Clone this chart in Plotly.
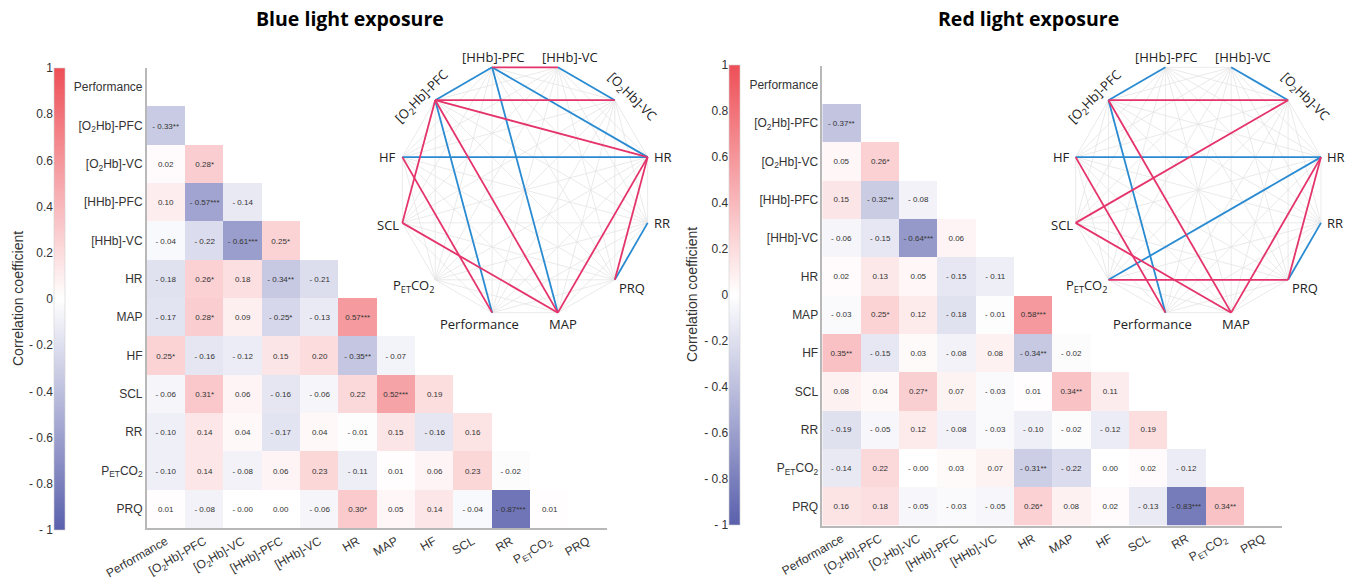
import math
import plotly.graph_objects as go

W, H = 1354, 584

# ---------------- data ----------------
variables = ["Performance", "[O<sub>2</sub>Hb]-PFC", "[O<sub>2</sub>Hb]-VC", "[HHb]-PFC",
             "[HHb]-VC", "HR", "MAP", "HF", "SCL", "RR", "P<sub>ET</sub>CO<sub>2</sub>", "PRQ"]

blue_r = [
    [],
    [-0.33],
    [0.02, 0.28],
    [0.10, -0.57, -0.14],
    [-0.04, -0.22, -0.61, 0.25],
    [-0.18, 0.26, 0.18, -0.34, -0.21],
    [-0.17, 0.28, 0.09, -0.25, -0.13, 0.57],
    [0.25, -0.16, -0.12, 0.15, 0.20, -0.35, -0.07],
    [-0.06, 0.31, 0.06, -0.16, -0.06, 0.22, 0.52, 0.19],
    [-0.10, 0.14, 0.04, -0.17, 0.04, -0.01, 0.15, -0.16, 0.16],
    [-0.10, 0.14, -0.08, 0.06, 0.23, -0.11, 0.01, 0.06, 0.23, -0.02],
    [0.01, -0.08, -0.00, 0.00, -0.06, 0.30, 0.05, 0.14, -0.04, -0.87, 0.01],
]
blue_stars = [
    [],
    [2],
    [0, 1],
    [0, 3, 0],
    [0, 0, 3, 1],
    [0, 1, 0, 2, 0],
    [0, 1, 0, 1, 0, 3],
    [1, 0, 0, 0, 0, 2, 0],
    [0, 1, 0, 0, 0, 0, 3, 0],
    [0, 0, 0, 0, 0, 0, 0, 0, 0],
    [0, 0, 0, 0, 0, 0, 0, 0, 0, 0],
    [0, 0, 0, 0, 0, 1, 0, 0, 0, 3, 0],
]

red_r = [
    [],
    [-0.37],
    [0.05, 0.26],
    [0.15, -0.32, -0.08],
    [-0.06, -0.15, -0.64, 0.06],
    [0.02, 0.13, 0.05, -0.15, -0.11],
    [-0.03, 0.25, 0.12, -0.18, -0.01, 0.58],
    [0.35, -0.15, 0.03, -0.08, 0.08, -0.34, -0.02],
    [0.08, 0.04, 0.27, 0.07, -0.03, 0.01, 0.34, 0.11],
    [-0.19, -0.05, 0.12, -0.08, -0.03, -0.10, -0.02, -0.12, 0.19],
    [-0.14, 0.22, -0.00, 0.03, 0.07, -0.31, -0.22, 0.00, 0.02, -0.12],
    [0.16, 0.18, -0.05, -0.03, -0.05, 0.26, 0.08, 0.02, -0.13, -0.83, 0.34],
]
red_stars = [
    [],
    [2],
    [0, 1],
    [0, 2, 0],
    [0, 0, 3, 0],
    [0, 0, 0, 0, 0],
    [0, 1, 0, 0, 0, 3],
    [2, 0, 0, 0, 0, 2, 0],
    [0, 0, 1, 0, 0, 0, 2, 0],
    [0, 0, 0, 0, 0, 0, 0, 0, 0],
    [0, 0, 0, 0, 0, 2, 0, 0, 0, 0],
    [0, 0, 0, 0, 0, 1, 0, 0, 0, 3, 2],
]

panel_titles = ["Blue light exposure", "Red light exposure"]
cbar_ticks = [-1, -0.8, -0.6, -0.4, -0.2, 0, 0.2, 0.4, 0.6, 0.8, 1]
cbar_ticktext = ["- 1", "- 0.8", "- 0.6", "- 0.4", "- 0.2", "0", "0.2", "0.4", "0.6", "0.8", "1"]

# ---------------- style / layout ----------------
colorscale = [[0.0, "#5a60ac"], [0.5, "#ffffff"], [1.0, "#ee4f57"]]
POS_COL = "#e5336b"
NEG_COL = "#2a8bd2"
AX_FONT = dict(family="Liberation Sans, Arial", size=12, color="#333333")
NET_FONT = dict(family="Open Sans", size=13, color="#222222")

# circle node angles (deg) in variable order
node_angles = [-105, 135, 45, 105, 75, 15, -75, 165, -165, -15, -135, -45]
# label placement: (anchor, dx px, dy px(down), angle)
label_place = [
    ("center", -13, 11, 0),
    ("center", -13.5, -3, -45),
    ("center", 17, -3, 45),
    ("center", 1, -10, 0),
    ("center", 12, -10, 0),
    ("left", 4, 0, 0),
    ("center", 5, 11, 0),
    ("right", -4, 0, 0),
    ("right", -1, 2, 0),
    ("left", 4, 0, 0),
    ("right", 1, 6, 0),
    ("left", 2, 8, 0),
]

panels = [
    dict(r=blue_r, s=blue_stars, mx=(146.7, 606.7), my=(68, 528), cb_x=54, cb_y=(68, 530),
         cb_title_x=18, net_c=(525, 190), title_x=349.5),
    dict(r=red_r, s=red_stars, mx=(822.3, 1282.3), my=(65.5, 525.5), cb_x=729.3, cb_y=(65, 525),
         cb_title_x=692, net_c=(1198.3, 190), title_x=1028),
]

R_PX = 127.0
NET_HALF = 1.2

fig = go.Figure()
annotations = []
n = len(variables)


def fmt(v, k):
    neg = math.copysign(1.0, v) < 0
    s = ("- " if neg else "") + f"{abs(v):.2f}"
    return s + "*" * k


for p, P in enumerate(panels):
    idx_h = p * 3 + 1
    idx_c = p * 3 + 2
    idx_n = p * 3 + 3

    z = [[None] * n for _ in range(n)]
    txt = [[""] * n for _ in range(n)]
    for i, row in enumerate(P["r"]):
        for j, v in enumerate(row):
            z[i][j] = v
            txt[i][j] = fmt(v, P["s"][i][j])

    cb_len = P["cb_y"][1] - P["cb_y"][0]
    cb_mid = (P["cb_y"][0] + P["cb_y"][1]) / 2
    fig.add_trace(go.Heatmap(
        z=z, x=list(range(n)), y=list(range(n)), text=txt, texttemplate="%{text}",
        textfont=dict(family="Liberation Sans, Arial", size=8, color="#333333"),
        colorscale=colorscale, zmin=-1, zmax=1, hoverongaps=False,
        xaxis="x" if p == 0 else f"x{idx_h}", yaxis="y" if p == 0 else f"y{idx_h}",
        colorbar=dict(x=P["cb_x"] / W, xanchor="left", y=1 - cb_mid / H, yanchor="middle",
                      len=cb_len, lenmode="pixels", thickness=11, thicknessmode="pixels",
                      xpad=0, ypad=0, showticklabels=False, ticks="",
                      outlinewidth=0.6, outlinecolor="#d0d0d0"),
    ))

    ax_common = dict(showgrid=False, zeroline=False, showline=True, linecolor="#b8b8b8",
                     linewidth=1.5, ticks="", tickfont=AX_FONT, tickvals=list(range(n)),
                     ticktext=variables, fixedrange=True, automargin=False)
    xa = dict(ax_common, domain=[P["mx"][0] / W, P["mx"][1] / W], range=[-0.5, n - 0.5],
              tickangle=-30, anchor="y" if p == 0 else f"y{idx_h}")
    ya = dict(ax_common, domain=[1 - P["my"][1] / H, 1 - P["my"][0] / H], range=[n - 0.5, -0.5],
              anchor="x" if p == 0 else f"x{idx_h}")
    fig.update_layout(**{("xaxis" if p == 0 else f"xaxis{idx_h}"): xa,
                         ("yaxis" if p == 0 else f"yaxis{idx_h}"): ya})

    # colorbar label axis
    fig.update_layout(**{
        f"xaxis{idx_c}": dict(domain=[P["cb_x"] / W, (P["cb_x"] + 11) / W], visible=False,
                              anchor=f"y{idx_c}", range=[0, 1], fixedrange=True),
        f"yaxis{idx_c}": dict(domain=[1 - P["cb_y"][1] / H, 1 - P["cb_y"][0] / H], range=[-1, 1],
                              anchor=f"x{idx_c}", side="left", tickvals=cbar_ticks,
                              ticktext=cbar_ticktext, showgrid=False, zeroline=False,
                              showline=False, ticks="", tickfont=AX_FONT, fixedrange=True,
                              automargin=False),
    })
    fig.add_trace(go.Scatter(x=[None], y=[None], xaxis=f"x{idx_c}", yaxis=f"y{idx_c}",
                             showlegend=False, hoverinfo="skip"))
    annotations.append(dict(text="Correlation coefficient", xref="paper", yref="paper",
                            x=P["cb_title_x"] / W, y=1 - cb_mid / H, textangle=-90,
                            showarrow=False, xanchor="center", yanchor="middle",
                            font=dict(family="Liberation Sans, Arial", size=14, color="#333333")))

    # network
    cx, cy = P["net_c"]
    half = NET_HALF * R_PX
    fig.update_layout(**{
        f"xaxis{idx_n}": dict(domain=[(cx - half) / W, (cx + half) / W], range=[-NET_HALF, NET_HALF],
                              visible=False, anchor=f"y{idx_n}", fixedrange=True),
        f"yaxis{idx_n}": dict(domain=[1 - (cy + half) / H, 1 - (cy - half) / H],
                              range=[-NET_HALF, NET_HALF], visible=False, anchor=f"x{idx_n}",
                              fixedrange=True),
    })
    nx = [math.cos(math.radians(a)) for a in node_angles]
    ny = [math.sin(math.radians(a)) for a in node_angles]
    gx, gy, px_, py_, qx, qy = [], [], [], [], [], []
    for i in range(n):
        for j in range(i):
            gx += [nx[i], nx[j], None]
            gy += [ny[i], ny[j], None]
            if P["s"][i][j] > 0:
                if P["r"][i][j] > 0:
                    px_ += [nx[i], nx[j], None]
                    py_ += [ny[i], ny[j], None]
                else:
                    qx += [nx[i], nx[j], None]
                    qy += [ny[i], ny[j], None]
    for xs, ys, col, wd in [(gx, gy, "#e4e4e4", 0.8), (qx, qy, NEG_COL, 1.8), (px_, py_, POS_COL, 1.8)]:
        fig.add_trace(go.Scatter(x=xs, y=ys, mode="lines", line=dict(color=col, width=wd),
                                 xaxis=f"x{idx_n}", yaxis=f"y{idx_n}", showlegend=False,
                                 hoverinfo="skip"))
    for k, name in enumerate(variables):
        anc, dx, dy, ang = label_place[k]
        annotations.append(dict(text=name, x=nx[k], y=ny[k], xref=f"x{idx_n}", yref=f"y{idx_n}",
                                xanchor=anc, yanchor="middle", xshift=dx, yshift=-dy,
                                textangle=ang, showarrow=False, font=NET_FONT))

    annotations.append(dict(text=f"<b>{panel_titles[p]}</b>", xref="paper", yref="paper",
                            x=P["title_x"] / W, y=1 - 18 / H, xanchor="center", yanchor="middle",
                            showarrow=False, font=dict(family="Open Sans", size=19.5, color="#000000")))

fig.update_layout(width=W, height=H, margin=dict(l=0, r=0, t=0, b=0, pad=0, autoexpand=False),
                  paper_bgcolor="white", plot_bgcolor="rgba(0,0,0,0)",
                  showlegend=False, annotations=annotations)

fig.write_html("out.html", config={"displayModeBar": False},
               post_script="document.body.style.margin='0';document.body.style.overflow='hidden';")
